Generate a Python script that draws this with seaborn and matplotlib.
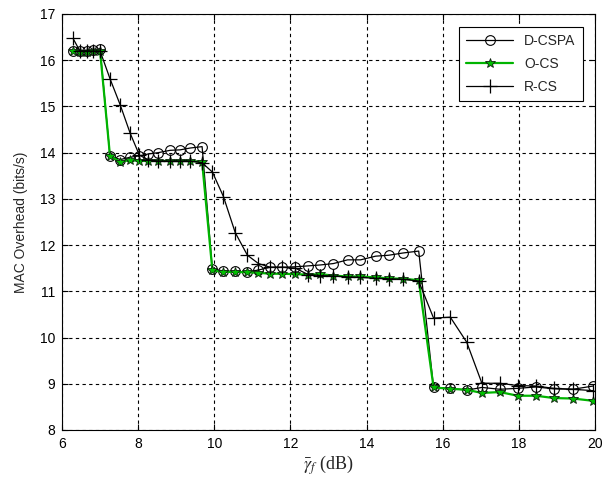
import matplotlib
matplotlib.use("Agg")
import matplotlib.pyplot as plt
import pandas as pd
import seaborn as sns

# x positions (dB) shared by all three schemes
gamma_db = [6.29, 6.47, 6.66, 6.82, 7.0, 7.26, 7.53, 7.79, 8.03, 8.26, 8.53, 8.84,
            9.1, 9.37, 9.68, 9.95, 10.24, 10.55, 10.87, 11.16, 11.47, 11.79, 12.13,
            12.47, 12.79, 13.13, 13.5, 13.84, 14.24, 14.58, 14.97, 15.37, 15.76,
            16.2, 16.63, 17.03, 17.5, 17.97, 18.45, 18.92, 19.42, 19.95]

d_cspa = [16.2, 16.2, 16.2, 16.22, 16.25, 13.93, 13.85, 13.9, 13.93, 13.97, 14.0,
          14.05, 14.06, 14.1, 14.13, 11.48, 11.44, 11.43, 11.42, 11.46, 11.52, 11.52,
          11.53, 11.55, 11.57, 11.6, 11.68, 11.68, 11.76, 11.78, 11.83, 11.87, 8.92,
          8.9, 8.86, 8.92, 8.88, 8.9, 8.93, 8.89, 8.88, 8.95]

o_cs = [16.2, 16.18, 16.18, 16.2, 16.2, 13.93, 13.8, 13.84, 13.82, 13.82, 13.82,
        13.82, 13.82, 13.82, 13.8, 11.45, 11.42, 11.42, 11.41, 11.4, 11.38, 11.38,
        11.37, 11.36, 11.37, 11.34, 11.32, 11.32, 11.3, 11.28, 11.27, 11.24, 8.92,
        8.89, 8.87, 8.8, 8.82, 8.74, 8.74, 8.69, 8.68, 8.63]

r_cs = [16.47, 16.2, 16.2, 16.2, 16.2, 15.6, 15.03, 14.42, 13.95, 13.84, 13.82,
        13.82, 13.82, 13.82, 13.78, 13.58, 13.05, 12.27, 11.78, 11.6, 11.52, 11.52,
        11.5, 11.36, 11.34, 11.33, 11.31, 11.3, 11.28, 11.27, 11.26, 11.22, 10.42,
        10.44, 9.9, 9.01, 9.01, 8.96, 8.95, 8.9, 8.88, 8.85]

x_ticks = [6, 8, 10, 12, 14, 16, 18, 20]
y_ticks = [8, 9, 10, 11, 12, 13, 14, 15, 16, 17]


def main() -> None:
    sns.set_style("ticks")
    plt.rcParams["font.family"] = ["Liberation Sans", "DejaVu Sans"]
    plt.rcParams["mathtext.fontset"] = "stix"

    df = pd.DataFrame({"gamma": gamma_db, "D-CSPA": d_cspa, "O-CS": o_cs, "R-CS": r_cs})

    fig = plt.figure(figsize=(6.14, 4.82), dpi=100)
    ax = fig.add_axes([0.101, 0.108, 0.868, 0.863])

    sns.lineplot(data=df, x="gamma", y="D-CSPA", ax=ax, sort=False, color="black",
                 linewidth=0.9, marker="o", markersize=7, markerfacecolor="none",
                 markeredgecolor="black", markeredgewidth=0.8, label="D-CSPA")
    sns.lineplot(data=df, x="gamma", y="O-CS", ax=ax, sort=False, color="#00b400",
                 linewidth=1.6, marker="*", markersize=7, markerfacecolor="#00c000",
                 markeredgecolor="#102010", markeredgewidth=0.6, label="O-CS")
    sns.lineplot(data=df, x="gamma", y="R-CS", ax=ax, sort=False, color="black",
                 linewidth=0.9, marker="+", markersize=10, markeredgewidth=0.9,
                 markeredgecolor="black", label="R-CS")

    ax.set_xlim(6, 20)
    ax.set_ylim(8, 17)
    ax.set_xticks(x_ticks)
    ax.set_yticks(y_ticks)
    ax.grid(True, color="black", linestyle=(0, (3, 3)), linewidth=0.8)
    ax.tick_params(direction="in", length=4, top=True, right=True, labelsize=10,
                   colors="black", pad=5)
    for s in ax.spines.values():
        s.set_visible(True)
        s.set_color("black")
        s.set_linewidth(0.8)

    ax.set_xlabel(r"$\bar{\gamma}_f$ (dB)", fontsize=13, family="Liberation Serif",
                  labelpad=2)
    ax.set_ylabel("MAC Overhead (bits/s)", fontsize=10, labelpad=8)

    leg = ax.legend(loc="upper right", fontsize=10, frameon=True, fancybox=False,
                    handlelength=3.4, borderpad=0.5, labelspacing=0.65,
                    bbox_to_anchor=(0.99, 0.985))
    leg.get_frame().set_edgecolor("black")
    leg.get_frame().set_linewidth(0.8)
    leg.get_frame().set_alpha(1)

    fig.savefig("out.png", dpi=100)
    plt.close(fig)


if __name__ == "__main__":
    main()
